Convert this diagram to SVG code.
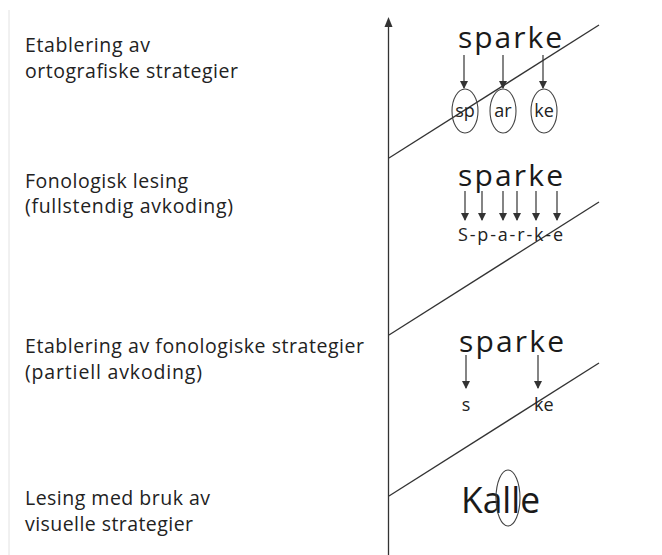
<svg xmlns="http://www.w3.org/2000/svg" width="662" height="555" viewBox="0 0 662 555">
<style>
.lbl{font-family:"Open Sans","Noto Sans","Liberation Sans",sans-serif;font-size:19.5px;font-weight:500;fill:#222}
.word{font-family:"Open Sans","Noto Sans","Liberation Sans",sans-serif;font-size:30px;font-weight:500;fill:#1a1a1a}
.small{font-family:"Open Sans","Noto Sans","Liberation Sans",sans-serif;font-size:18px;font-weight:500;fill:#222}
.ln{stroke:#333;stroke-width:1.3;fill:none}
.ar{stroke:#333;stroke-width:1.2;fill:none;marker-end:url(#ah)}
.ov{stroke:#444;stroke-width:1.1;fill:none}
</style>
<defs>
<marker id="ah" markerWidth="8" markerHeight="10" refX="7" refY="4" orient="auto" markerUnits="userSpaceOnUse" viewBox="0 0 8 8">
<path d="M0,0 L8,4 L0,8 Z" fill="#333"/>
</marker>
</defs>
<rect width="662" height="555" fill="#fff"/>
<line x1="9" y1="10" x2="9" y2="555" stroke="#e2e2e2" stroke-width="1"/>

<g id="connectors">
<line class="ln" x1="388.5" y1="555" x2="388.5" y2="26"/>
<path d="M384.5,27 L388.5,17 L392.5,27 Z" fill="#333"/>
<line class="ln" x1="389" y1="158" x2="599" y2="25"/>
<line class="ln" x1="389" y1="335" x2="599" y2="202"/>
<line class="ln" x1="389" y1="496" x2="599" y2="363"/>
</g>

<g id="stage4">
<text class="lbl" x="25" y="52" textLength="125" lengthAdjust="spacing">Etablering av</text>
<text class="lbl" x="25" y="78" textLength="213" lengthAdjust="spacing">ortografiske strategier</text>
<text class="word" x="458" y="48" textLength="104" lengthAdjust="spacing">sparke</text>
<line class="ar" x1="464" y1="55" x2="464" y2="88"/>
<line class="ar" x1="503" y1="55" x2="503" y2="88"/>
<line class="ar" x1="543" y1="55" x2="543" y2="88"/>
<ellipse class="ov" cx="465" cy="111" rx="13" ry="22"/>
<ellipse class="ov" cx="503" cy="111" rx="13" ry="22"/>
<ellipse class="ov" cx="544" cy="111" rx="13" ry="22"/>
<text class="small" x="465" y="117" text-anchor="middle">sp</text>
<text class="small" x="503" y="117" text-anchor="middle">ar</text>
<text class="small" x="544" y="117" text-anchor="middle">ke</text>
</g>

<g id="stage3">
<text class="lbl" x="25" y="188" textLength="163" lengthAdjust="spacing">Fonologisk lesing</text>
<text class="lbl" x="25" y="213" textLength="208" lengthAdjust="spacing">(fullstendig avkoding)</text>
<text class="word" x="458" y="186" textLength="105" lengthAdjust="spacing">sparke</text>
<line class="ar" x1="465" y1="191" x2="465" y2="220"/>
<line class="ar" x1="482" y1="191" x2="482" y2="220"/>
<line class="ar" x1="503" y1="191" x2="503" y2="220"/>
<line class="ar" x1="517" y1="191" x2="517" y2="220"/>
<line class="ar" x1="536" y1="191" x2="536" y2="220"/>
<line class="ar" x1="557" y1="191" x2="557" y2="220"/>
<text class="small" x="458" y="241" textLength="105" lengthAdjust="spacing">S-p-a-r-k-e</text>
</g>

<g id="stage2">
<text class="lbl" x="25" y="353" textLength="339" lengthAdjust="spacing">Etablering av fonologiske strategier</text>
<text class="lbl" x="25" y="379" textLength="177" lengthAdjust="spacing">(partiell avkoding)</text>
<text class="word" x="459" y="352" textLength="105" lengthAdjust="spacing">sparke</text>
<line class="ar" x1="466" y1="355" x2="466" y2="388"/>
<line class="ar" x1="538" y1="355" x2="538" y2="388"/>
<text class="small" x="466" y="411" text-anchor="middle">s</text>
<text class="small" x="534" y="411">ke</text>
</g>

<g id="stage1">
<text class="lbl" x="25" y="505" textLength="185" lengthAdjust="spacing">Lesing med bruk av</text>
<text class="lbl" x="25" y="531" textLength="168" lengthAdjust="spacing">visuelle strategier</text>
<text class="word" x="461" y="513" style="font-size:37px" textLength="79" lengthAdjust="spacingAndGlyphs">Kalle</text>
<ellipse class="ov" cx="508" cy="498" rx="12" ry="28"/>
</g>
</svg>
